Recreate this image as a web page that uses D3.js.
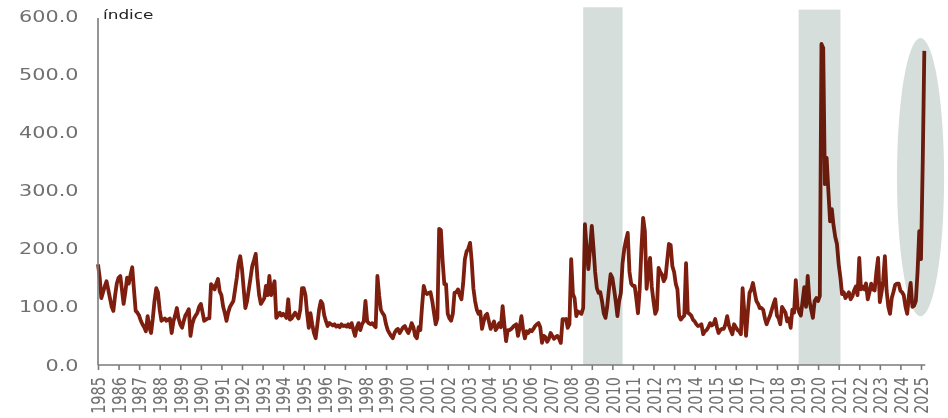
<!DOCTYPE html>
<html>
<head>
<meta charset="utf-8">
<script src="https://cdn.jsdelivr.net/npm/d3@7"></script>
<style>
  body { margin: 0; background: #fff; }
  svg { display: block; font-family: "DejaVu Sans", sans-serif; }
</style>
</head>
<body>
<svg id="chart" width="948" height="418"></svg>
<script>
// monthly index, starting January 1985
var indexValues = [
  173, 150, 115, 125, 135, 144, 130, 115, 100, 93, 120, 140,   // 1985
  150, 153, 130, 105, 125, 150, 140, 155, 168, 130, 93, 90,    // 1986
  85, 76, 70, 65, 58, 84, 65, 55, 80, 110, 132, 125,           // 1987
  95, 76, 78, 80, 76, 78, 80, 55, 75, 85, 98, 80,              // 1988
  70, 64, 75, 85, 90, 96, 50, 70, 80, 85, 90, 100,             // 1989
  105, 90, 76, 78, 80, 80, 139, 135, 130, 140, 148, 127,       // 1990
  120, 100, 90, 76, 90, 100, 105, 110, 130, 150, 175, 187,     // 1991
  165, 130, 98, 110, 130, 150, 170, 180, 191, 150, 120, 105,   // 1992
  110, 115, 136, 120, 153, 120, 130, 144, 81, 85, 90, 85,      // 1993
  88, 85, 81, 113, 78, 80, 85, 90, 85, 80, 95, 132,            // 1994
  132, 120, 90, 64, 89, 70, 55, 46, 70, 95, 110, 105,          // 1995
  85, 75, 67, 72, 70, 68, 70, 66, 68, 65, 70, 67,              // 1996
  68, 66, 70, 65, 72, 60, 50, 65, 72, 60, 70, 75,              // 1997
  110, 75, 72, 70, 72, 68, 65, 153, 120, 95, 89, 85,           // 1998
  70, 60, 55, 50, 46, 55, 60, 62, 55, 60, 65, 67,              // 1999
  60, 55, 62, 72, 65, 50, 46, 65, 60, 100, 136, 125,           // 2000
  122, 124, 125, 110, 90, 70, 80, 234, 232, 180, 139, 139,     // 2001
  88, 80, 76, 88, 124, 125, 130, 120, 113, 140, 182, 195,      // 2002
  200, 210, 180, 132, 110, 95, 88, 92, 62, 75, 85, 88,         // 2003
  75, 62, 68, 75, 60, 65, 72, 65, 101, 70, 41, 60,             // 2004
  60, 62, 65, 68, 70, 50, 65, 84, 60, 46, 58, 55,              // 2005
  60, 58, 62, 67, 70, 72, 65, 38, 50, 48, 40, 45,              // 2006
  55, 50, 45, 48, 50, 45, 38, 79, 78, 79, 64, 70,              // 2007
  182, 122, 115, 84, 92, 90, 88, 98, 242, 200, 165, 200,       // 2008
  239, 200, 160, 132, 124, 125, 110, 89, 81, 100, 130, 156,    // 2009
  150, 130, 110, 84, 110, 124, 175, 200, 215, 227, 160, 140,   // 2010
  136, 136, 115, 89, 130, 200, 253, 230, 131, 160, 184, 135,   // 2011
  110, 88, 95, 167, 160, 155, 144, 150, 180, 208, 206, 170,    // 2012
  160, 139, 130, 84, 78, 82, 85, 175, 90, 88, 85, 78,          // 2013
  75, 70, 67, 68, 70, 53, 58, 60, 65, 72, 68, 70,              // 2014
  79, 65, 55, 60, 62, 62, 70, 84, 68, 60, 53, 70,              // 2015
  65, 60, 58, 53, 132, 90, 50, 90, 124, 130, 141, 125,         // 2016
  110, 105, 98, 98, 95, 80, 70, 78, 85, 95, 105, 113,          // 2017
  85, 80, 70, 100, 95, 90, 75, 80, 64, 95, 90, 146,            // 2018
  100, 90, 85, 110, 134, 100, 153, 110, 95, 81, 110, 115,      // 2019
  110, 119, 552, 545, 311, 356, 300, 247, 268, 240, 220, 208,  // 2020
  173, 150, 122, 125, 115, 120, 125, 113, 118, 128, 135, 120,  // 2021
  184, 130, 135, 130, 140, 113, 125, 140, 130, 128, 160, 184,  // 2022
  108, 125, 145, 187, 128, 100, 88, 115, 126, 138, 140, 140,   // 2023
  128, 125, 120, 100, 88, 120, 141, 100, 102, 110, 160, 230,   // 2024
  182, 350, 540                                                // 2025
];
var yearTicks = d3.range(1985, 2026);
var valueTicks = [0, 100, 200, 300, 400, 500, 600];
// shaded periods: [start, end, top value]
var shadedPeriods = [
  [new Date(2008, 7, 1), new Date(2010, 6, 1), 615],
  [new Date(2019, 0, 20), new Date(2021, 1, 1), 611]
];
// highlighted latest reading: time span and value span
var highlightSpan = [new Date(2023, 10, 1), new Date(2026, 1, 15)];
var highlightValues = [84, 562];

var svg = d3.select('#chart');
var stretch = 1.3;

var x = d3.scaleTime()
  .domain([new Date(1985, 0, 1), new Date(2025, 0, 1)])
  .range([98, 921]);
var y = d3.scaleLinear()
  .domain([0, 600])
  .range([365, 16]);

var data = indexValues.map((v, i) => ({ date: new Date(1985, i, 1), value: v }));

// line first, shading multiplied over it
svg.append('path')
  .datum(data)
  .attr('fill', 'none')
  .attr('stroke', '#7d1e0e')
  .attr('stroke-width', 3.8)
  .attr('stroke-linejoin', 'round')
  .attr('d', d3.line().x((d) => x(d.date)).y((d) => y(d.value)));

svg.selectAll('rect.shade')
  .data(shadedPeriods)
  .enter().append('rect')
  .attr('class', 'shade')
  .attr('x', (d) => x(d[0]))
  .attr('width', (d) => x(d[1]) - x(d[0]))
  .attr('y', (d) => y(d[2]))
  .attr('height', (d) => y(0) - y(d[2]))
  .attr('fill', '#d6dedc')
  .style('mix-blend-mode', 'multiply');

svg.append('ellipse')
  .attr('cx', (x(highlightSpan[0]) + x(highlightSpan[1])) / 2)
  .attr('cy', (y(highlightValues[0]) + y(highlightValues[1])) / 2)
  .attr('rx', (x(highlightSpan[1]) - x(highlightSpan[0])) / 2)
  .attr('ry', (y(highlightValues[0]) - y(highlightValues[1])) / 2)
  .attr('fill', '#d6dedc')
  .style('mix-blend-mode', 'multiply');

// y axis
var yAxis = svg.append('g')
  .attr('transform', 'translate(98,0)')
  .call(d3.axisLeft(y).tickValues(valueTicks).tickSize(0).tickPadding(15).tickFormat(d3.format('.1f')));
yAxis.select('.domain').attr('stroke', '#7a7a7a').attr('stroke-width', 1.6).attr('d', 'M0,' + y(0) + 'V' + (y(600) + 2));
yAxis.selectAll('text')
  .attr('fill', '#707070')
  .attr('font-size', 16)
  .attr('font-family', 'DejaVu Sans')
  .attr('transform', 'scale(' + stretch + ',1)');

// x axis
var lastDate = data[data.length - 1].date;
var xAxis = svg.append('g')
  .attr('transform', 'translate(0,' + y(0) + ')')
  .call(d3.axisBottom(x)
    .tickValues(yearTicks.map((yr) => new Date(yr, 0, 1)))
    .tickSize(5).tickSizeOuter(0)
    .tickFormat(d3.timeFormat('%Y')));
xAxis.select('.domain').attr('stroke', '#7a7a7a').attr('stroke-width', 1.6)
  .attr('d', 'M' + x.range()[0] + ',0H' + (x(lastDate) + 1));
xAxis.selectAll('.tick line').attr('stroke', '#7a7a7a').attr('stroke-width', 1.6);
xAxis.selectAll('text')
  .attr('fill', '#707070')
  .attr('font-size', 14.5)
  .attr('font-family', 'DejaVu Sans')
  .attr('x', 0).attr('y', 0).attr('dy', '0.36em')
  .attr('text-anchor', 'end')
  .attr('transform', 'translate(0,12) scale(' + stretch + ',1) rotate(-90)');

// unit label
svg.append('text')
  .attr('transform', 'translate(103,19) scale(' + stretch + ',1)')
  .attr('font-size', 13)
  .attr('fill', '#222')
  .text('índice');
</script>
</body>
</html>
